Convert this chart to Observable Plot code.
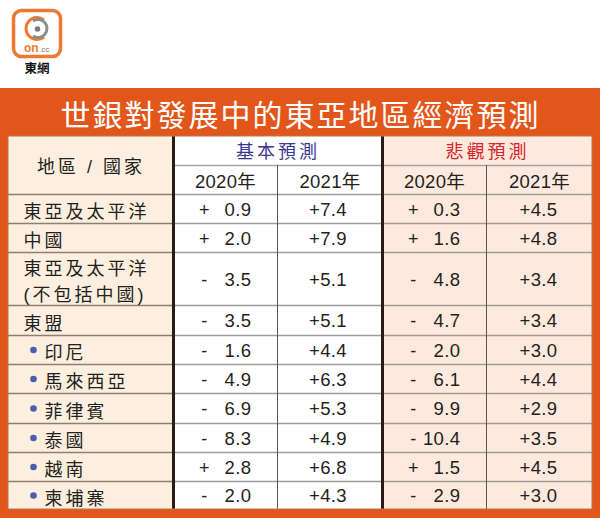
<!DOCTYPE html>
<html>
<head>
<meta charset="utf-8">
<script src="https://cdn.jsdelivr.net/npm/d3@7"></script>
<script src="https://cdn.jsdelivr.net/npm/@observablehq/plot@0.6"></script>
<style>
  html, body { margin: 0; padding: 0; background: #fff; }
  #wrap { position: relative; width: 600px; height: 518px; overflow: hidden; }
  #logo { position: absolute; left: 0; top: 0; }
  #chart svg { display: block; }
</style>
</head>
<body>
<div id="wrap">
  <div id="chart"></div>
  <svg id="logo" width="80" height="82" viewBox="0 0 80 82">
    <rect x="13.5" y="10.5" width="47" height="46" rx="8" fill="#fff" stroke="#ea7a35" stroke-width="3.5"/>
    <path d="M 44 20 A 11 11 0 1 0 44 37" fill="none" stroke="#ee7b30" stroke-width="3"/>
    <path d="M 33 21 A 9 9 0 1 1 33 36" fill="none" stroke="#8d8d8d" stroke-width="3"/>
    <circle cx="37.5" cy="29" r="2.8" fill="#7b7b7b"/>
    <text x="24" y="52" font-family="Liberation Sans, sans-serif" font-weight="bold" font-size="12" fill="#ee7b30">on</text>
    <text x="39" y="52" font-family="Liberation Sans, sans-serif" font-size="8" fill="#7b7b7b">.cc</text>
    <text x="37" y="73" text-anchor="middle" font-family="Noto Sans CJK TC, sans-serif" font-weight="bold" font-size="12.5" fill="#111">東網</text>
  </svg>
</div>
<script>
// ---- data ----
const title = "世銀對發展中的東亞地區經濟預測";
const headerRegion = "地區 / 國家";
const scenarios = ["基本預測", "悲觀預測"];
const years = ["2020年", "2021年"];
const regions = ["東亞及太平洋", "中國", "東亞及太平洋\n(不包括中國)", "東盟", "印尼", "馬來西亞", "菲律賓", "泰國", "越南", "柬埔寨"];
const isSub = [false, false, false, false, true, true, true, true, true, true];
const base2020 = [0.9, 2.0, -3.5, -3.5, -1.6, -4.9, -6.9, -8.3, 2.8, -2.0];
const base2021 = [7.4, 7.9, 5.1, 5.1, 4.4, 6.3, 5.3, 4.9, 6.8, 4.3];
const low2020 = [0.3, 1.6, -4.8, -4.7, -2.0, -6.1, -9.9, -10.4, 1.5, -2.9];
const low2021 = [4.5, 4.8, 3.4, 3.4, 3.0, 4.4, 2.9, 3.5, 4.5, 3.0];

// ---- layout (pixel grid of the table) ----
const colEdges = [8, 173, 277, 382, 486, 592];
const rowEdges = [136, 165, 194, 223, 252, 305, 335, 364, 393, 423, 452, 481, 509];
const bandTop = 88;
const colFill = ["#fcefdf", "#ffffff", "#ffffff", "#fde9de", "#fde9de"];

const font = "'Liberation Sans', 'Noto Sans CJK TC', sans-serif";
const ink = "#231f20";

const rows = regions.map((r, i) => ({
  region: r, sub: isSub[i],
  b20: base2020[i], b21: base2021[i], p20: low2020[i], p21: low2021[i],
  yc: (rowEdges[i + 2] + rowEdges[i + 3]) / 2
}));
const cols = colFill.map((c, i) => ({fill: c, x1: colEdges[i], x2: colEdges[i + 1]}));
const bodyLines = rowEdges.slice(2, -1);
const sign = v => v < 0 ? "-" : "+";
const mid = i => (colEdges[i] + colEdges[i + 1]) / 2;
const h1 = (rowEdges[0] + rowEdges[1]) / 2;
const h2 = (rowEdges[1] + rowEdges[2]) / 2;

const chart = Plot.plot({
  width: 600, height: 518, margin: 0,
  x: {domain: [0, 600], range: [0, 600], axis: null},
  y: {domain: [0, 518], range: [0, 518], axis: null},
  color: {type: "identity"},
  style: {background: "transparent", fontFamily: font},
  marks: [
    Plot.rect([0], {x1: 0, x2: 600, y1: bandTop, y2: 518, fill: "#e2561b"}),
    Plot.rect(cols, {x1: "x1", x2: "x2", y1: rowEdges[0], y2: rowEdges[rowEdges.length - 1], fill: "fill"}),
    Plot.ruleY([rowEdges[1]], {x1: colEdges[1], x2: colEdges[5], stroke: "#a8a4a1", strokeWidth: 1.6}),
    Plot.ruleY(bodyLines, {x1: colEdges[0], x2: colEdges[1], stroke: "#8e7f72", strokeWidth: 1.6}),
    Plot.ruleY(bodyLines, {x1: colEdges[1], x2: colEdges[5], stroke: "#a29c97", strokeWidth: 1.6}),
    Plot.ruleX([colEdges[2], colEdges[4]], {y1: rowEdges[1], y2: rowEdges[rowEdges.length - 1], stroke: "#5a5552", strokeWidth: 1}),
    Plot.ruleX([colEdges[1], colEdges[3]], {y1: rowEdges[0], y2: rowEdges[rowEdges.length - 1], stroke: "#2a1c14", strokeWidth: 3}),
    Plot.rect([0], {x1: colEdges[0], x2: colEdges[5], y1: rowEdges[0], y2: rowEdges[rowEdges.length - 1], fill: "none", stroke: "#b5764f", strokeWidth: 1}),
    // title
    Plot.text([title], {x: 300, y: 116, text: d => d, fontSize: 30, fontWeight: 400, fill: "#ffffff"}),
    // headers
    Plot.text([headerRegion], {x: mid(0), y: (rowEdges[0] + rowEdges[2]) / 2 + 2, text: d => d, fontSize: 18, fill: ink}),
    Plot.text([0, 1], {x: i => (colEdges[1 + 2 * i] + colEdges[3 + 2 * i]) / 2, y: h1 + 1, text: i => scenarios[i], fontSize: 18, fill: i => i === 0 ? "#3b3690" : "#d8242b"}),
    Plot.text([0, 1, 2, 3], {x: i => mid(i + 1), y: h2 + 2, text: i => years[i % 2], fontSize: 18.5, fill: ink}),
    // region labels
    Plot.dot(rows.filter(d => d.sub), {x: 33, y: "yc", r: 3.3, fill: "#4b5db0"}),
    Plot.text(rows, {x: d => d.sub ? 44 : 23, y: "yc", dy: 1, text: "region", textAnchor: "start", fontSize: 18, lineHeight: 1.4, fill: ink}),
    // base scenario
    Plot.text(rows, {x: colEdges[1] + 31, y: "yc", dy: 1, text: d => sign(d.b20), fontSize: 18, fill: ink}),
    Plot.text(rows, {x: colEdges[2] - 26, y: "yc", dy: 1, text: d => Math.abs(d.b20).toFixed(1), textAnchor: "end", fontSize: 18.5, fill: ink}),
    Plot.text(rows, {x: mid(2) - 2, y: "yc", dy: 1, text: d => "+" + d.b21.toFixed(1), fontSize: 18.5, fill: ink}),
    // pessimistic scenario
    Plot.text(rows, {x: colEdges[3] + 31, y: "yc", dy: 1, text: d => sign(d.p20), fontSize: 18, fill: ink}),
    Plot.text(rows, {x: colEdges[4] - 26, y: "yc", dy: 1, text: d => Math.abs(d.p20).toFixed(1), textAnchor: "end", fontSize: 18.5, fill: ink}),
    Plot.text(rows, {x: mid(4) - 1, y: "yc", dy: 1, text: d => "+" + d.p21.toFixed(1), fontSize: 18.5, fill: ink})
  ]
});

// letter spacing: wide for Chinese labels, slight for numbers
const hasCJK = /[\u3400-\u9fff]/;
d3.select(chart).selectAll("text").each(function () {
  const t = this.textContent;
  if (t === title) this.style.letterSpacing = "2px";
  else if (/^20\d\d年$/.test(t)) this.style.letterSpacing = "0.3px";
  else if (hasCJK.test(t)) this.style.letterSpacing = "3px";
  else this.style.letterSpacing = "0.4px";
});
document.getElementById("chart").appendChild(chart);
</script>
</body>
</html>
